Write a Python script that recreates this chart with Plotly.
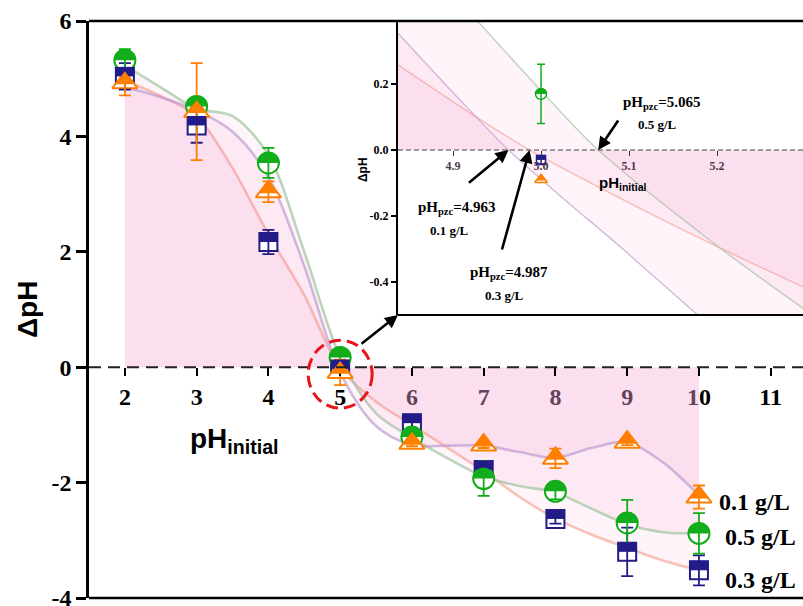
import numpy as np
import plotly.graph_objects as go

# ---------------- data ----------------
ph_initial = [2, 3, 4, 5, 6, 7, 8, 9, 10]

dph_01 = [4.93, 4.43, 3.04, -0.09, -1.32, -1.35, -1.58, -1.30, -2.25]
err_01 = [0.22, 0.84, 0.18, 0.22, 0.05, 0.05, 0.17, 0.05, 0.20]
dph_05 = [5.32, 4.52, 3.54, 0.17, -1.21, -1.93, -2.15, -2.70, -2.88]
err_05 = [0.19, 0.10, 0.26, 0.09, 0.05, 0.30, 0.14, 0.40, 0.35]
dph_03 = [5.04, 4.19, 2.17, -0.03, -0.97, -1.78, -2.63, -3.20, -3.52]
err_03 = [0.23, 0.30, 0.21, 0.05, 0.12, 0.10, 0.08, 0.42, 0.26]

# fitted curves as drawn in the main panel
fit_x = [2, 2.5, 3, 3.5, 4, 4.5, 5, 5.5, 6, 6.5, 7, 7.5, 8, 8.5, 9, 9.5, 10]
fit_01 = [4.85, 4.68, 4.45, 4.08, 3.30, 1.75, -0.09, -1.02, -1.35, -1.36, -1.36, -1.47, -1.57, -1.40, -1.30, -1.65, -2.22]
fit_05 = [5.23, 4.85, 4.48, 4.35, 3.68, 2.00, 0.18, -0.80, -1.22, -1.58, -1.90, -2.06, -2.17, -2.45, -2.72, -2.86, -2.88]
fit_03 = [4.97, 4.70, 4.35, 3.45, 2.30, 1.25, -0.02, -0.60, -1.00, -1.40, -1.80, -2.25, -2.62, -2.90, -3.13, -3.35, -3.52]

# inset (zoom around pH 5)
inset_x_01 = [4.8375, 4.905, 4.963, 5.018, 5.093, 5.178, 5.30]
inset_y_01 = [0.354, 0.16, 0.0, -0.13, -0.30, -0.50, -0.78]
inset_x_05 = [4.8375, 4.928, 5.0, 5.065, 5.2, 5.2977]
inset_y_05 = [0.65, 0.39, 0.18, 0.0, -0.29, -0.48]
inset_x_03 = [4.8375, 4.923, 4.987, 5.093, 5.198, 5.2977]
inset_y_03 = [0.258, 0.106, 0.0, -0.15, -0.29, -0.415]

inset_pt_x = [5.0]
inset_pt_01 = [-0.09]
inset_pt_05 = [0.17]
inset_err_05 = [0.09]
inset_pt_03 = [-0.03]
inset_err_03 = [0.012]

pzc_01, pzc_03, pzc_05 = 4.963, 4.987, 5.065

main_xticks = [2, 3, 4, 5, 6, 7, 8, 9, 10, 11]
main_yticks = [-4, -2, 0, 2, 4, 6]
inset_xticks = [4.9, 5.0, 5.1, 5.2]
inset_yticks = [-0.4, -0.2, 0.0, 0.2]
series_labels = ["0.1 g/L", "0.5 g/L", "0.3 g/L"]

# ---------------- styling ----------------
W, H = 803, 606
PL, PR, PT, PB = 89, 803, 21, 598
SERIF = "Liberation Serif"
SANS = "Liberation Sans"
C01, C05, C03 = "#ff7f00", "#12ad1a", "#221b88"
L01, L05, L03 = "rgba(186,150,206,0.65)", "rgba(160,196,160,0.7)", "rgba(244,160,140,0.62)"
PINK = "rgba(240,110,180,0.08)"
MAUVE = "#63435c"


def px(xp, yp):
    return (xp - PL) / (PR - PL), (PB - yp) / (PB - PT)


main_xrange = [1.5, 11.45]
main_yrange = [-4, 6]
ins_xrange = [4.8375, 5.2977]
ins_yrange = [-0.5, 0.391]
ins_x0, ins_y0 = px(398, 315)
main_xpos = (0 - main_yrange[0]) / (main_yrange[1] - main_yrange[0])
ins_xpos = ins_y0 + (0 - ins_yrange[0]) / (ins_yrange[1] - ins_yrange[0]) * (1 - ins_y0)

fig = go.Figure()

# fitted curves with fills (main)
for fy, lc in [(fit_03, L03), (fit_05, L05), (fit_01, L01)]:
    fig.add_trace(go.Scatter(x=fit_x, y=fy, mode="lines",
                             line=dict(color=lc, width=2.6, shape="spline", smoothing=0.9),
                             fill="tozeroy", fillcolor=PINK, hoverinfo="skip",
                             xaxis="x", yaxis="y"))
# inset curves with fills
for ix, iy, lc in [(inset_x_03, inset_y_03, L03), (inset_x_05, inset_y_05, L05),
                   (inset_x_01, inset_y_01, L01)]:
    fig.add_trace(go.Scatter(x=ix, y=iy, mode="lines",
                             line=dict(color=lc, width=1.4, shape="spline", smoothing=0.8),
                             fill="tozeroy", fillcolor=PINK, hoverinfo="skip",
                             xaxis="x2", yaxis="y2"))

main_series = [
    (dph_03, err_03, C03, "square", 18),
    (dph_05, err_05, C05, "circle", 21),
    (dph_01, err_01, C01, "triangle-up", 22),
]
inset_series = [
    (inset_pt_03, inset_err_03, C03, "square", 9),
    (inset_pt_05, inset_err_05, C05, "circle", 11),
    (inset_pt_01, None, C01, "triangle-up", 11),
]

for ys, err, c, sym, sz in main_series:
    fig.add_trace(go.Scatter(x=ph_initial, y=ys, mode="markers",
                             marker=dict(symbol=sym, size=sz, color="white",
                                         line=dict(color=c, width=2)),
                             xaxis="x", yaxis="y"))
for ys, err, c, sym, sz in main_series:
    fig.add_trace(go.Scatter(x=ph_initial, y=ys, mode="markers",
                             marker=dict(size=2, color="rgba(0,0,0,0)"),
                             error_y=dict(type="data", array=err, color=c, thickness=1.8, width=6),
                             xaxis="x", yaxis="y"))
for ys, err, c, sym, sz in inset_series:
    fig.add_trace(go.Scatter(x=inset_pt_x, y=ys, mode="markers",
                             marker=dict(symbol=sym, size=sz, color="white",
                                         line=dict(color=c, width=1.5)),
                             xaxis="x2", yaxis="y2"))
    if err is not None:
        fig.add_trace(go.Scatter(x=inset_pt_x, y=ys, mode="markers",
                                 marker=dict(size=2, color="rgba(0,0,0,0)"),
                                 error_y=dict(type="data", array=err, color=c, thickness=1.5, width=4),
                                 xaxis="x2", yaxis="y2"))


def half_path(sym, size):
    r = size / 2.0
    if sym == "circle":
        pts = [(r * np.cos(t), r * np.sin(t)) for t in np.linspace(0, np.pi, 25)]
    elif sym == "square":
        pts = [(r, 0), (r, r), (-r, r), (-r, 0)]
    else:
        rt = r * 2 / np.sqrt(3)
        pts = [(0, r), (0.75 * rt, -0.125 * r), (-0.75 * rt, -0.125 * r)]
    return "M" + "L".join(f"{a:.2f},{b:.2f}" for a, b in pts) + "Z"


shapes = []
for ys, err, c, sym, sz in main_series:
    for xv, yv in zip(ph_initial, ys):
        shapes.append(dict(type="path", xref="x", yref="y", xsizemode="pixel", ysizemode="pixel",
                           xanchor=xv, yanchor=yv, path=half_path(sym, sz + 1),
                           fillcolor=c, line=dict(width=0), layer="above"))
for ys, err, c, sym, sz in inset_series:
    for xv, yv in zip(inset_pt_x, ys):
        shapes.append(dict(type="path", xref="x2", yref="y2", xsizemode="pixel", ysizemode="pixel",
                           xanchor=xv, yanchor=yv, path=half_path(sym, sz + 1),
                           fillcolor=c, line=dict(width=0), layer="above"))

# zero lines
shapes.append(dict(type="line", xref="paper", yref="y", x0=0, x1=1, y0=0, y1=0,
                   line=dict(color="#222", width=2, dash="12px,7px"), layer="above"))
shapes.append(dict(type="line", xref="paper", yref="y2", x0=ins_x0, x1=1, y0=0, y1=0,
                   line=dict(color="#444", width=1, dash="5px,3px"), layer="above"))
# frame lines
shapes.append(dict(type="line", xref="paper", yref="paper", x0=0, x1=1, y0=1, y1=1,
                   line=dict(color="black", width=2.5), layer="above"))
shapes.append(dict(type="line", xref="paper", yref="paper", x0=0, x1=1, y0=0, y1=0,
                   line=dict(color="black", width=2.5), layer="above"))
shapes.append(dict(type="line", xref="paper", yref="paper", x0=ins_x0, x1=1, y0=ins_y0, y1=ins_y0,
                   line=dict(color="black", width=2.2), layer="above"))
# red dashed circle around pH 5
shapes.append(dict(type="circle", xref="x", yref="y", xsizemode="pixel", ysizemode="pixel",
                   xanchor=5, yanchor=0, x0=-32, x1=32, y0=-41, y1=27,
                   line=dict(color="#e8141c", width=3, dash="12px,6px"), layer="above"))

annotations = []


def txt(xp, yp, text, size, family=SERIF, bold=True, angle=0, color="black", xanchor="center"):
    x, y = px(xp, yp)
    annotations.append(dict(x=x, y=y, xref="paper", yref="paper", text=text, showarrow=False,
                            xanchor=xanchor, yanchor="middle", textangle=angle,
                            font=dict(family=family, size=size, color=color,
                                      weight="bold" if bold else "normal")))


# axis titles
txt(27, 310, "ΔpH", 28, family=SANS, angle=-90)
txt(234, 440, "pH<sub>initial</sub>", 28, family=SANS)
txt(363, 170, "ΔpH", 12, family=SANS, angle=-90)
txt(623, 184, "pH<sub>initial</sub>", 15, family=SANS)

# inset notes
txt(662, 103, "pH<sub>pzc</sub>=5.065", 15)
txt(657, 124, "0.5 g/L", 13)
txt(457, 208, "pH<sub>pzc</sub>=4.963", 15)
txt(449, 230, "0.1 g/L", 13)
txt(509, 273, "pH<sub>pzc</sub>=4.987", 15)
txt(504, 295, "0.3 g/L", 13)

# arrows to pHpzc crossings
for xv, ax, ay in [(pzc_05, 21, -31), (pzc_01, -41, 34), (pzc_03, -28, 101)]:
    annotations.append(dict(x=xv, y=0, xref="x2", yref="y2", text="", showarrow=True,
                            ax=ax, ay=ay, arrowhead=2, arrowsize=1, arrowwidth=2.6,
                            arrowcolor="black", standoff=0))
# arrow from red circle to inset
annotations.append(dict(x=ins_x0, y=ins_y0, xref="paper", yref="paper", text="", showarrow=True,
                        ax=-38, ay=30, arrowhead=2, arrowsize=1, arrowwidth=2.6,
                        arrowcolor="black", standoff=0))

# series labels next to the last points
for lab, ys, xs, ysft in [(series_labels[0], dph_01, 18, -5),
                          (series_labels[1], dph_05, 24, -4),
                          (series_labels[2], dph_03, 24, -10)]:
    annotations.append(dict(x=ph_initial[-1], y=ys[-1], xref="x", yref="y", text=lab,
                            showarrow=False, xanchor="left", yanchor="middle",
                            xshift=xs, yshift=ysft,
                            font=dict(family=SERIF, size=24, color="black", weight="bold")))

main_xticktext = []
for t in main_xticks:
    if 6 <= t <= 9:
        main_xticktext.append(f'<span style="color:{MAUVE}">{t}</span>')
    elif t == 10:
        main_xticktext.append(f'<span style="color:{MAUVE}">1</span>0')
    else:
        main_xticktext.append(str(t))

fig.update_layout(
    width=W, height=H,
    margin=dict(l=PL, r=W - PR, t=PT, b=H - PB, autoexpand=False),
    paper_bgcolor="white", plot_bgcolor="white",
    showlegend=False,
    xaxis=dict(domain=[0, 1], range=main_xrange, anchor="free", position=main_xpos,
               tickmode="array", tickvals=main_xticks, ticktext=main_xticktext,
               ticks="outside", ticklen=8, tickwidth=2, tickcolor="black",
               showline=False, showgrid=False, zeroline=False, automargin=False,
               ticklabelstandoff=0, ticklabeloverflow="allow",
               tickfont=dict(family=SERIF, size=24, color="black", weight="bold")),
    yaxis=dict(domain=[0, 1], range=main_yrange, anchor="x",
               tickmode="array", tickvals=main_yticks, ticktext=[str(v) for v in main_yticks],
               ticks="outside", ticklen=10, tickwidth=2.5, tickcolor="black",
               showline=True, linewidth=2.5, linecolor="black",
               showgrid=False, zeroline=False, automargin=False,
               ticklabeloverflow="allow",
               tickfont=dict(family=SERIF, size=24, color="black", weight="bold")),
    xaxis2=dict(domain=[ins_x0, 1], range=ins_xrange, anchor="free", position=ins_xpos,
                tickmode="array", tickvals=inset_xticks, ticktext=[f"{v:.1f}" for v in inset_xticks],
                ticks="outside", ticklen=5, tickwidth=1.2, tickcolor="#333",
                showline=False, showgrid=False, zeroline=False, automargin=False,
                tickfont=dict(family=SERIF, size=12, color="#4a3a46", weight="bold")),
    yaxis2=dict(domain=[ins_y0, 1], range=ins_yrange, anchor="x2",
                tickmode="array", tickvals=inset_yticks, ticktext=[f"{v:.1f}" for v in inset_yticks],
                ticks="outside", ticklen=5, tickwidth=1.5, tickcolor="black",
                showline=True, linewidth=2.2, linecolor="black",
                showgrid=False, zeroline=False, automargin=False,
                tickfont=dict(family=SERIF, size=12, color="black", weight="bold")),
    shapes=shapes,
    annotations=annotations,
)

fig.write_html("out.html", config={"displayModeBar": False},
               post_script="document.body.style.margin='0';document.body.style.overflow='hidden';")
